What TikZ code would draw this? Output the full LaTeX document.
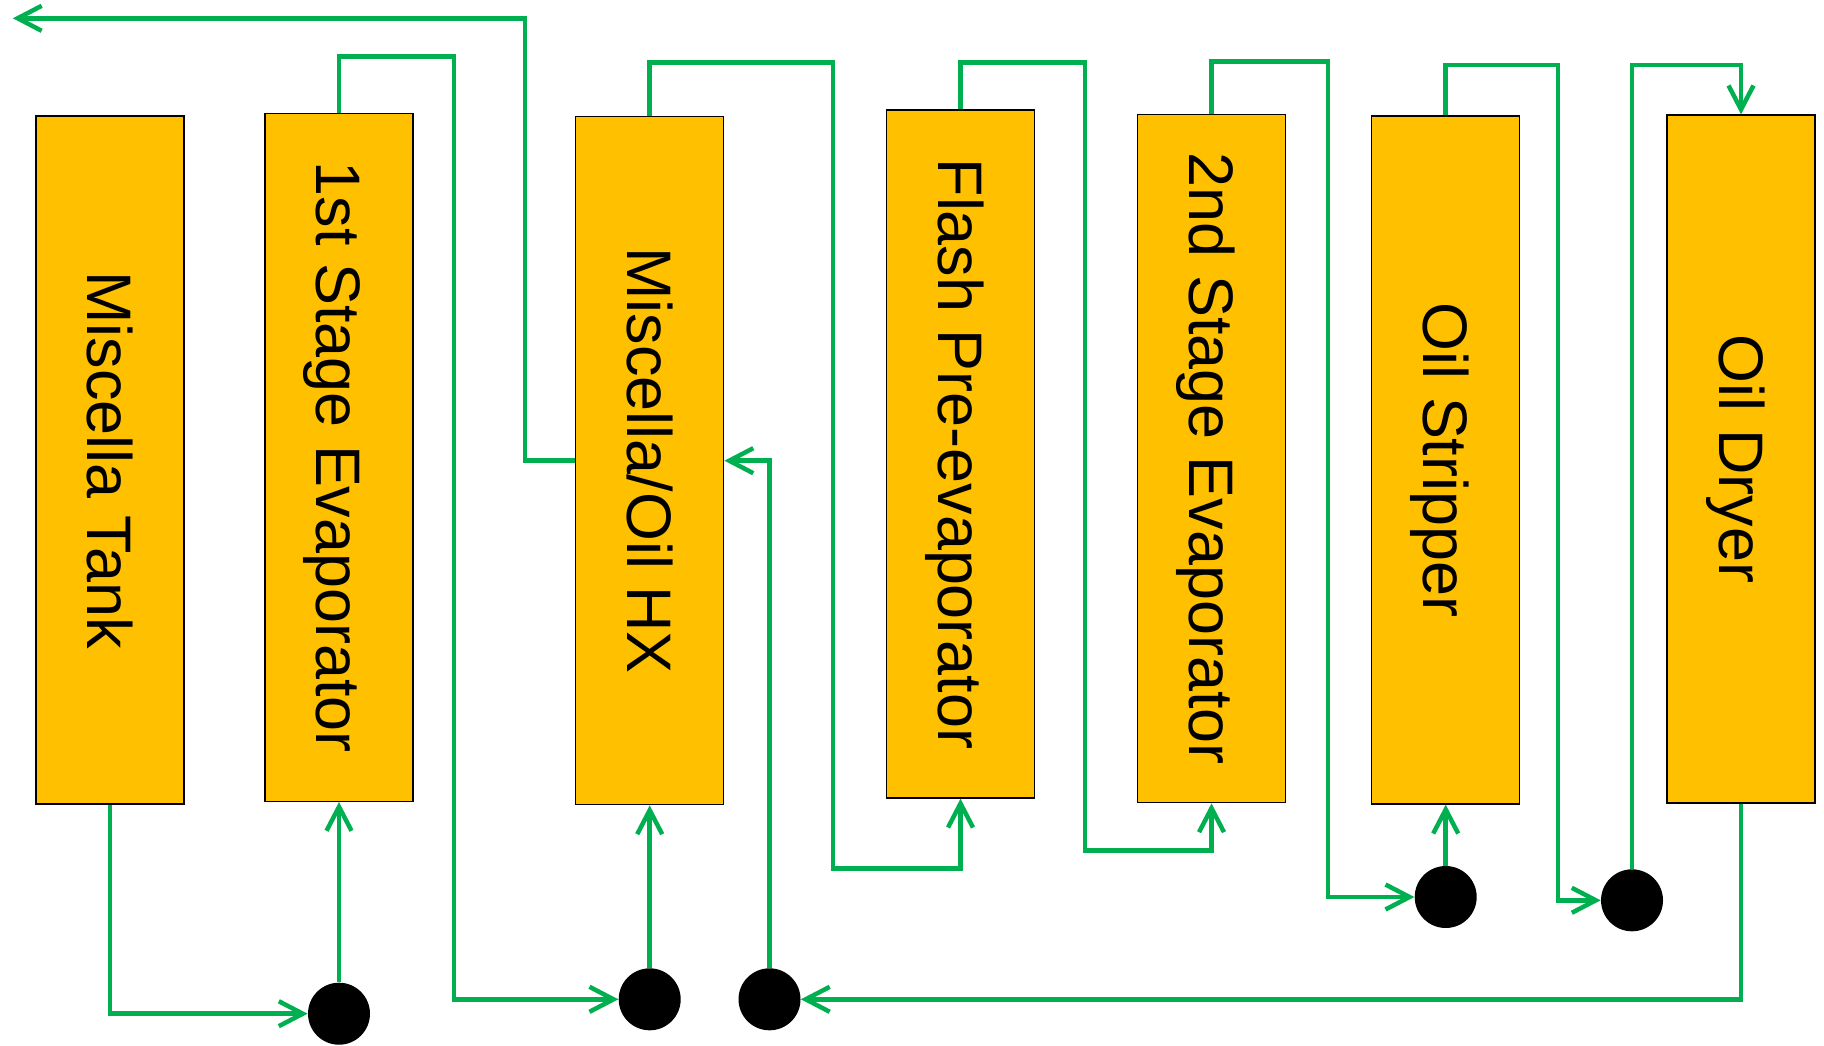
\documentclass[tikz,border=0pt]{standalone}
\usepackage{fontspec}
\setmainfont{Liberation Sans}
\usepackage{graphicx}
\usetikzlibrary{arrows.meta}
\definecolor{unitfill}{HTML}{FFC000}
\definecolor{pipe}{HTML}{00B050}
\newcommand{\unitlabel}[1]{\rotatebox{-90}{\raisebox{0pt}[0.7em][0pt]{#1}}}

\begin{document}
\begin{tikzpicture}[x=0.02cm, y=-0.02cm,
        unit/.style={draw=black, line width=0.8pt, fill=unitfill, inner sep=0pt, minimum width=2.96cm, minimum height=13.76cm, font=\fontsize{35.8}{43}\selectfont},
        pump/.style={circle, fill=black, inner sep=0pt, minimum size=1.24cm},
        flow/.style={draw=pipe, line width=0.09cm},
        feed/.style={flow, -{Straight Barb[length=0.48cm, width=0.5cm]}}]
                \useasboundingbox (0,0) rectangle (1824,1045);
                % process units
                \node[unit] (tank) at (110,460) {\unitlabel{Miscella Tank}};
                \node[unit] (evapA) at (339,457.3) {\unitlabel{1st Stage Evaporator}};
                \node[unit] (hx) at (649.7,460.7) {\unitlabel{Miscella/Oil HX}};
                \node[unit] (flash) at (960.5,454) {\unitlabel{Flash Pre-evaporator}};
                \node[unit] (evapB) at (1211.5,458.7) {\unitlabel{2nd Stage Evaporator}};
                \node[unit] (stripper) at (1445.7,460) {\unitlabel{Oil Stripper}};
                \node[unit] (dryer) at (1741,459) {\unitlabel{Oil Dryer}};
                % pumps
                \node[pump] (p1) at (339,1013.7) {};
                \node[pump] (p2) at (649.7,999.3) {};
                \node[pump] (p3) at (769.5,999.3) {};
                \node[pump] (p4) at (1445.7,897) {};
                \node[pump] (p5) at (1632,900.3) {};
                \coordinate (vent) at (12.8,18.3);
                % lines
                \draw[feed] (tank.south) |- (p1);
                \draw[feed] (p1) -- (evapA.south);
                \draw[feed] (evapA.north) |- (454,56.7) |- (p2);
                \draw[feed] (p2) -- (hx.south);
                \draw[feed] (hx.north) |- (833,62.3) |- (960.5,868.7) -- (flash.south);
                \draw[feed] (flash.north) |- (1084.8,62.7) |- (1211.5,850.3) -- (evapB.south);
                \draw[feed] (evapB.north) |- (1328,61.7) |- (p4);
                \draw[feed] (p4) -- (stripper.south);
                \draw[feed] (stripper.north) |- (1558,65) |- (p5);
                \draw[feed] (p5) |- (1741,65) -- (dryer.north);
                \draw[feed] (dryer.south) |- (p3);
                \draw[feed] (p3) |- (hx.east);
                \draw[feed] (hx.west) -| (525,18.3) -- (vent);
\end{tikzpicture}
\end{document}
